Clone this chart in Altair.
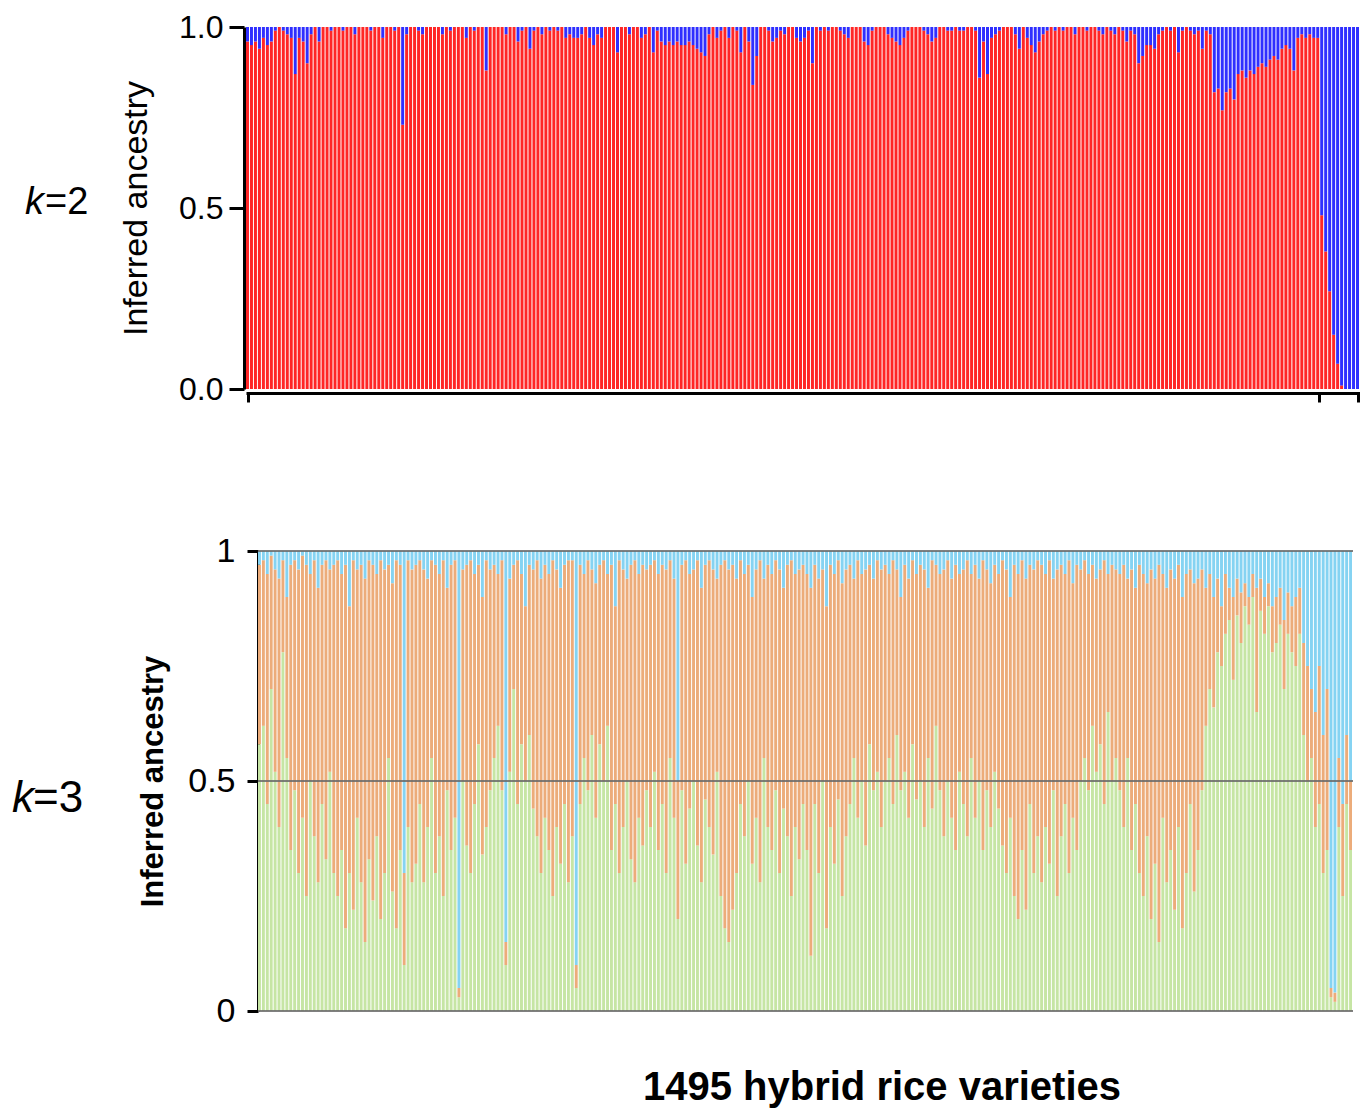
import altair as alt
import pandas as pd

# ---------------- data ----------------
# k=2 : fraction of the blue cluster for each (grouped) variety, left to right
BLUE_K2 = [
    0.04, 0.05, 0.04, 0.06, 0.03, 0.05, 0.04, 0.01, 0.00, 0.01, 0.02, 0.03, 0.13, 0.03, 0.04, 0.10, 0.02, 0.00, 0.04, 0.00,
    0.00, 0.01, 0.00, 0.00, 0.01, 0.00, 0.00, 0.02, 0.00, 0.00, 0.00, 0.01, 0.00, 0.00, 0.03, 0.00, 0.00, 0.01, 0.00, 0.27,
    0.02, 0.00, 0.00, 0.01, 0.02, 0.00, 0.00, 0.00, 0.00, 0.02, 0.00, 0.01, 0.00, 0.00, 0.00, 0.03, 0.00, 0.01, 0.00, 0.00,
    0.12, 0.00, 0.00, 0.00, 0.00, 0.02, 0.00, 0.00, 0.04, 0.01, 0.00, 0.06, 0.01, 0.00, 0.02, 0.00, 0.01, 0.00, 0.01, 0.00,
    0.03, 0.02, 0.03, 0.03, 0.02, 0.00, 0.03, 0.05, 0.02, 0.03, 0.00, 0.00, 0.00, 0.07, 0.00, 0.00, 0.02, 0.00, 0.00, 0.03,
    0.02, 0.00, 0.07, 0.01, 0.04, 0.05, 0.04, 0.05, 0.04, 0.05, 0.05, 0.04, 0.05, 0.06, 0.07, 0.08, 0.02, 0.00, 0.03, 0.01,
    0.00, 0.03, 0.00, 0.01, 0.07, 0.00, 0.04, 0.16, 0.08, 0.00, 0.00, 0.01, 0.04, 0.03, 0.01, 0.02, 0.00, 0.00, 0.03, 0.04,
    0.03, 0.01, 0.10, 0.00, 0.01, 0.00, 0.01, 0.00, 0.00, 0.01, 0.02, 0.03, 0.00, 0.00, 0.00, 0.04, 0.05, 0.01, 0.00, 0.00,
    0.00, 0.02, 0.03, 0.04, 0.05, 0.03, 0.01, 0.00, 0.00, 0.00, 0.01, 0.02, 0.04, 0.03, 0.00, 0.00, 0.01, 0.01, 0.00, 0.01,
    0.01, 0.00, 0.00, 0.01, 0.14, 0.04, 0.13, 0.03, 0.02, 0.01, 0.00, 0.00, 0.00, 0.02, 0.06, 0.00, 0.03, 0.05, 0.07, 0.04,
    0.02, 0.01, 0.00, 0.01, 0.00, 0.01, 0.00, 0.00, 0.02, 0.00, 0.00, 0.01, 0.00, 0.00, 0.01, 0.02, 0.00, 0.01, 0.02, 0.00,
    0.01, 0.04, 0.01, 0.02, 0.10, 0.08, 0.05, 0.05, 0.06, 0.02, 0.01, 0.00, 0.01, 0.00, 0.07, 0.01, 0.00, 0.01, 0.02, 0.01,
    0.06, 0.01, 0.02, 0.18, 0.17, 0.23, 0.18, 0.17, 0.20, 0.13, 0.12, 0.14, 0.12, 0.13, 0.11, 0.10, 0.11, 0.09, 0.08, 0.09,
    0.06, 0.05, 0.06, 0.12, 0.03, 0.02, 0.03, 0.02, 0.03, 0.03, 0.52, 0.62, 0.73, 0.85, 0.93, 0.99, 1.00, 1.00, 1.00, 1.00,
]

# k=3 : green (bottom) and light-blue (top) cluster fractions; orange is the rest
GREEN_K3 = [
    0.58, 0.62, 0.45, 0.70, 0.52, 0.40, 0.78, 0.55, 0.35, 0.48, 0.30, 0.42, 0.25, 0.50, 0.38, 0.28, 0.45, 0.33, 0.52, 0.30,
    0.25, 0.35, 0.18, 0.30, 0.22, 0.42, 0.28, 0.15, 0.33, 0.24, 0.38, 0.20, 0.30, 0.55, 0.26, 0.18, 0.35, 0.10, 0.40, 0.28,
    0.32, 0.45, 0.28, 0.40, 0.55, 0.30, 0.38, 0.25, 0.48, 0.35, 0.42, 0.03, 0.50, 0.36, 0.30, 0.45, 0.58, 0.34, 0.40, 0.48,
    0.55, 0.62, 0.48, 0.10, 0.52, 0.70, 0.45, 0.58, 0.50, 0.60, 0.44, 0.38, 0.30, 0.42, 0.35, 0.25, 0.40, 0.32, 0.45, 0.28,
    0.38, 0.05, 0.45, 0.55, 0.48, 0.60, 0.42, 0.58, 0.50, 0.62, 0.35, 0.45, 0.30, 0.40, 0.50, 0.33, 0.28, 0.42, 0.36, 0.48,
    0.40, 0.52, 0.35, 0.45, 0.30, 0.55, 0.42, 0.20, 0.48, 0.32, 0.44, 0.50, 0.36, 0.28, 0.46, 0.40, 0.34, 0.52, 0.25, 0.18,
    0.15, 0.22, 0.30, 0.45, 0.38, 0.50, 0.32, 0.42, 0.28, 0.55, 0.40, 0.35, 0.48, 0.30, 0.44, 0.38, 0.25, 0.40, 0.33, 0.45,
    0.35, 0.12, 0.45, 0.30, 0.50, 0.18, 0.40, 0.32, 0.46, 0.25, 0.38, 0.45, 0.55, 0.42, 0.50, 0.36, 0.58, 0.48, 0.52, 0.40,
    0.50, 0.55, 0.45, 0.60, 0.48, 0.52, 0.42, 0.58, 0.46, 0.50, 0.40, 0.55, 0.44, 0.62, 0.48, 0.38, 0.50, 0.42, 0.35, 0.52,
    0.45, 0.38, 0.55, 0.42, 0.50, 0.35, 0.48, 0.40, 0.52, 0.44, 0.36, 0.30, 0.42, 0.25, 0.20, 0.35, 0.22, 0.45, 0.30, 0.38,
    0.28, 0.40, 0.32, 0.48, 0.25, 0.38, 0.45, 0.30, 0.42, 0.35, 0.50, 0.55, 0.48, 0.62, 0.52, 0.58, 0.45, 0.65, 0.50, 0.55,
    0.48, 0.40, 0.55, 0.35, 0.45, 0.30, 0.25, 0.38, 0.20, 0.32, 0.15, 0.42, 0.28, 0.35, 0.22, 0.40, 0.18, 0.30, 0.45, 0.26,
    0.35, 0.48, 0.62, 0.70, 0.66, 0.78, 0.75, 0.82, 0.85, 0.72, 0.86, 0.80, 0.88, 0.84, 0.90, 0.65, 0.87, 0.82, 0.88, 0.78,
    0.80, 0.84, 0.70, 0.82, 0.78, 0.75, 0.82, 0.60, 0.50, 0.55, 0.40, 0.45, 0.30, 0.35, 0.03, 0.02, 0.40, 0.25, 0.45, 0.35,
]
BLUE_K3 = [
    0.03, 0.02, 0.05, 0.01, 0.04, 0.06, 0.02, 0.10, 0.03, 0.02, 0.04, 0.01, 0.03, 0.05, 0.02, 0.08, 0.03, 0.02, 0.04, 0.03,
    0.02, 0.05, 0.03, 0.12, 0.02, 0.04, 0.03, 0.06, 0.02, 0.03, 0.05, 0.02, 0.04, 0.03, 0.07, 0.02, 0.03, 0.70, 0.02, 0.04,
    0.03, 0.02, 0.04, 0.06, 0.02, 0.03, 0.05, 0.02, 0.08, 0.03, 0.02, 0.95, 0.04, 0.03, 0.02, 0.05, 0.03, 0.10, 0.02, 0.04,
    0.03, 0.05, 0.02, 0.85, 0.06, 0.03, 0.02, 0.05, 0.12, 0.03, 0.04, 0.02, 0.06, 0.03, 0.05, 0.02, 0.04, 0.08, 0.03, 0.02,
    0.02, 0.90, 0.03, 0.05, 0.02, 0.04, 0.07, 0.03, 0.02, 0.05, 0.03, 0.12, 0.02, 0.04, 0.06, 0.03, 0.02, 0.05, 0.03, 0.04,
    0.03, 0.02, 0.05, 0.03, 0.04, 0.02, 0.06, 0.50, 0.03, 0.02, 0.05, 0.04, 0.02, 0.08, 0.03, 0.02, 0.04, 0.06, 0.03, 0.02,
    0.04, 0.03, 0.06, 0.02, 0.05, 0.03, 0.10, 0.04, 0.02, 0.06, 0.03, 0.05, 0.02, 0.04, 0.08, 0.03, 0.02, 0.05, 0.04, 0.03,
    0.05, 0.08, 0.03, 0.06, 0.04, 0.12, 0.03, 0.05, 0.02, 0.07, 0.04, 0.03, 0.06, 0.02, 0.05, 0.04, 0.03, 0.06, 0.02, 0.04,
    0.03, 0.05, 0.02, 0.04, 0.10, 0.03, 0.06, 0.02, 0.05, 0.03, 0.04, 0.08, 0.02, 0.03, 0.05, 0.04, 0.02, 0.06, 0.03, 0.05,
    0.04, 0.02, 0.05, 0.03, 0.06, 0.02, 0.04, 0.07, 0.03, 0.05, 0.02, 0.04, 0.10, 0.03, 0.05, 0.02, 0.06, 0.03, 0.04, 0.02,
    0.03, 0.05, 0.02, 0.06, 0.04, 0.03, 0.05, 0.02, 0.07, 0.03, 0.04, 0.02, 0.05, 0.03, 0.06, 0.04, 0.02, 0.05, 0.03, 0.04,
    0.05, 0.03, 0.06, 0.04, 0.08, 0.03, 0.05, 0.07, 0.04, 0.06, 0.03, 0.05, 0.08, 0.04, 0.06, 0.03, 0.10, 0.05, 0.04, 0.07,
    0.06, 0.04, 0.08, 0.05, 0.10, 0.06, 0.12, 0.05, 0.08, 0.10, 0.06, 0.09, 0.07, 0.10, 0.05, 0.08, 0.06, 0.10, 0.07, 0.12,
    0.10, 0.08, 0.15, 0.09, 0.12, 0.10, 0.08, 0.20, 0.25, 0.30, 0.35, 0.25, 0.40, 0.30, 0.95, 0.96, 0.45, 0.55, 0.40, 0.50,
]

K2_CLUSTERS = ["red", "blue"]
K3_CLUSTERS = ["green", "orange", "lightblue"]
K2_TICKS = [0.5, 269.7, 279.5]          # group boundaries marked on the k=2 axis
X_TITLE = "1495 hybrid rice varieties"
Y_TITLE = "Inferred ancestry"

FONT = "Liberation Sans"
BAR_FRACTION = 0.75                      # visible part of each bar (white gap between bars)

# ---------------- long tables ----------------
rows2 = []
for i, b in enumerate(BLUE_K2):
    rows2.append({"i": i, "comp": "red", "y0": 0.0, "y1": 1.0 - b})
    rows2.append({"i": i, "comp": "blue", "y0": 1.0 - b, "y1": 1.0})
df2 = pd.DataFrame(rows2)

rows3 = []
for i, (g, b) in enumerate(zip(GREEN_K3, BLUE_K3)):
    rows3.append({"i": i, "comp": "green", "y0": 0.0, "y1": g})
    rows3.append({"i": i, "comp": "orange", "y0": g, "y1": 1.0 - b})
    rows3.append({"i": i, "comp": "lightblue", "y0": 1.0 - b, "y1": 1.0})
df3 = pd.DataFrame(rows3)

N2 = len(BLUE_K2)
N3 = len(GREEN_K3)

W = 1114
H2 = 362
H3 = 460
# the k=3 panel sits 12 px right of the k=2 panel and ends 7 px earlier
px3 = (W - 12 - 7) / N3
dom3 = [-12 / px3, N3 + 7 / px3]

# ---------------- k = 2 panel ----------------
bars2 = alt.Chart(df2).transform_calculate(
    i2=f"datum.i + {BAR_FRACTION}"
).mark_rect().encode(
    x=alt.X("i:Q", scale=alt.Scale(domain=[0, N2], nice=False, zero=False),
            axis=alt.Axis(values=K2_TICKS, labels=False, title=None, grid=False,
                          domainWidth=3, tickWidth=3, tickSize=9, offset=4,
                          domainColor="black", tickColor="black")),
    x2="i2:Q",
    y=alt.Y("y0:Q", scale=alt.Scale(domain=[0, 1], nice=False),
            axis=alt.Axis(values=[0, 0.5, 1], format=".1f", title=Y_TITLE, grid=False,
                          labelFontSize=32, labelColor="black", labelPadding=6,
                          titleFontSize=34, titleFontWeight="normal", titleColor="black",
                          titlePadding=25, domainWidth=3, tickWidth=3, tickSize=15,
                          domainColor="black", tickColor="black", offset=2)),
    y2="y1:Q",
    color=alt.Color("comp:N", scale=alt.Scale(domain=K2_CLUSTERS, range=["#ff2626", "#2f2fff"]),
                    legend=None),
)

lab_k2 = alt.Chart(pd.DataFrame({"t": ["k"]})).mark_text(
    font=FONT, fontSize=38, fontStyle="italic", align="left", baseline="middle", color="black"
).encode(text="t:N", x=alt.value(-221), y=alt.value(176))
lab_k2b = alt.Chart(pd.DataFrame({"t": ["=2"]})).mark_text(
    font=FONT, fontSize=38, align="left", baseline="middle", color="black"
).encode(text="t:N", x=alt.value(-201), y=alt.value(176))

top = alt.layer(bars2, lab_k2, lab_k2b).properties(width=W, height=H2)

# ---------------- k = 3 panel ----------------
xs3 = alt.Scale(domain=dom3, nice=False, zero=False)
ys3 = alt.Scale(domain=[0, 1], nice=False)
yaxis3 = alt.Axis(values=[0, 0.5, 1], format="~g", title=Y_TITLE, grid=False,
                  labelFontSize=34, labelColor="black", labelPadding=12,
                  titleFontSize=31, titleFontWeight="bold", titleColor="black",
                  titlePadding=18, domainWidth=3, tickWidth=3, tickSize=11,
                  domainColor="black", tickColor="black", offset=-12)

bars3 = alt.Chart(df3).transform_calculate(
    i2=f"datum.i + {BAR_FRACTION}"
).mark_rect().encode(
    x=alt.X("i:Q", scale=xs3, axis=None),
    x2="i2:Q",
    y=alt.Y("y0:Q", scale=ys3, axis=yaxis3),
    y2="y1:Q",
    color=alt.Color("comp:N", scale=alt.Scale(domain=K3_CLUSTERS,
                                              range=["#c6e5a4", "#ecac7a", "#85d3f2"]),
                    legend=None),
)

rules3 = alt.Chart(pd.DataFrame({"y0": [0.0, 0.5, 1.0], "i": [0] * 3, "i2": [N3] * 3})).mark_rule(
    color="#6a6a6a", strokeWidth=2, opacity=0.85
).encode(
    x=alt.X("i:Q", scale=xs3, axis=None),
    x2="i2:Q",
    y=alt.Y("y0:Q", scale=ys3, axis=yaxis3),
)

lab_k3 = alt.Chart(pd.DataFrame({"t": ["k"]})).mark_text(
    font=FONT, fontSize=44, fontStyle="italic", align="left", baseline="middle", color="black"
).encode(text="t:N", x=alt.value(-234), y=alt.value(248))
lab_k3b = alt.Chart(pd.DataFrame({"t": ["=3"]})).mark_text(
    font=FONT, fontSize=44, align="left", baseline="middle", color="black"
).encode(text="t:N", x=alt.value(-213), y=alt.value(248))

xtitle = alt.Chart(pd.DataFrame({"t": [X_TITLE]})).mark_text(
    font=FONT, fontSize=40, fontWeight="bold", align="center", baseline="middle", color="black"
).encode(text="t:N", x=alt.value(636), y=alt.value(537))

bottom = alt.layer(bars3, rules3, lab_k3, lab_k3b, xtitle).properties(width=W, height=H3)

chart = alt.vconcat(top, bottom, spacing=129).resolve_scale(
    color="independent"
).properties(
    padding={"left": 12, "top": 11, "right": 0, "bottom": 0}
).configure_view(stroke=None).configure_axis(
    labelFont=FONT, titleFont=FONT
).configure_text(font=FONT)

chart.save("out.html", embed_options={"renderer": "svg", "actions": False})
